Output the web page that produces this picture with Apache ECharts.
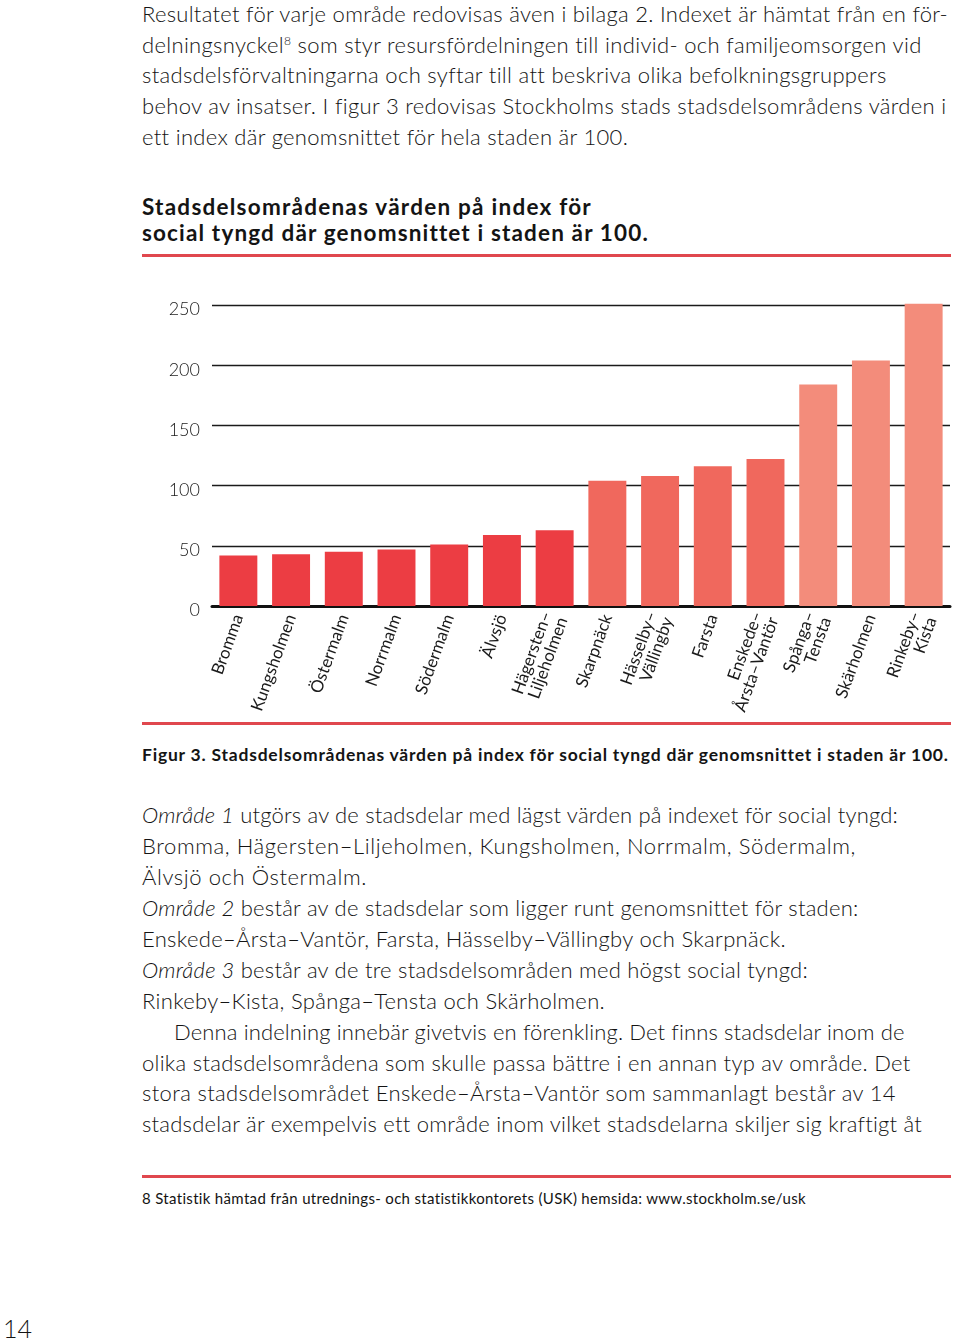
<!DOCTYPE html>
<html lang="sv">
<head>
<meta charset="utf-8">
<title>Stadsdelsområdenas värden på index för social tyngd</title>
<script src="https://cdn.jsdelivr.net/npm/echarts@6/dist/echarts.min.js"></script>
<style>
  html, body { margin: 0; padding: 0; background: #ffffff; }
  body { width: 960px; height: 1340px; position: relative; overflow: hidden;
         font-family: Lato, "Open Sans", sans-serif; color: #141414; }
  .ln { position: absolute; left: 142px; white-space: nowrap; font-weight: 300;
        font-size: 22px; line-height: 30px; height: 30px; }
  .bold { font-weight: 700; }
  .title { font-size: 22.5px; line-height: 26px; height: 26px; }
  .cap { font-size: 17.5px; line-height: 22px; height: 22px; }
  .fn { font-size: 15px; line-height: 20px; height: 20px; font-weight: 400; }
  .ln sup { font-size: 0.55em; vertical-align: 0; position: relative; top: -0.7em; }
  .rule { position: absolute; left: 142px; width: 809px; height: 3px; background: #e0474e; }
  #chart { position: absolute; left: 0; top: 280px; width: 960px; height: 450px; }
  #pg { position: absolute; left: 3px; top: 1314px; font-size: 25px; font-weight: 300; line-height: 28px; }
</style>
</head>
<body>
<!-- paragraph 1 -->
<div class="ln" data-r="948" style="top:-1px">Resultatet för varje område redovisas även i bilaga 2. Indexet är hämtat från en för-</div>
<div class="ln" data-r="922" style="top:30px">delningsnyckel<sup>8</sup> som styr resursfördelningen till individ- och familjeomsorgen vid</div>
<div class="ln" data-r="886" style="top:60px">stadsdelsförvaltningarna och syftar till att beskriva olika befolkningsgruppers</div>
<div class="ln" data-r="946" style="top:91px">behov av insatser. I figur 3 redovisas Stockholms stads stadsdelsområdens värden i</div>
<div class="ln" data-r="627" style="top:122px">ett index där genomsnittet för hela staden är 100.</div>

<!-- chart title -->
<div class="ln bold title" data-r="592" style="top:194px">Stadsdelsområdenas värden på index för</div>
<div class="ln bold title" data-r="648" style="top:220px">social tyngd där genomsnittet i staden är 100.</div>
<div class="rule" style="top:254px"></div>

<div id="chart"></div>

<div class="rule" style="top:722px"></div>
<div class="ln bold cap" data-r="948" style="top:744px">Figur 3. Stadsdelsområdenas värden på index för social tyngd där genomsnittet i staden är 100.</div>

<!-- paragraph 2 -->
<div class="ln" data-r="898" style="top:800px"><i>Område 1</i> utgörs av de stadsdelar med lägst värden på indexet för social tyngd:</div>
<div class="ln" data-r="856" style="top:831px">Bromma, Hägersten–Liljeholmen, Kungsholmen, Norrmalm, Södermalm,</div>
<div class="ln" data-r="367" style="top:862px">Älvsjö och Östermalm.</div>
<div class="ln" data-r="858" style="top:893px"><i>Område 2</i> består av de stadsdelar som ligger runt genomsnittet för staden:</div>
<div class="ln" data-r="786" style="top:924px">Enskede–Årsta–Vantör, Farsta, Hässelby–Vällingby och Skarpnäck.</div>
<div class="ln" data-r="808" style="top:955px"><i>Område 3</i> består av de tre stadsdelsområden med högst social tyngd:</div>
<div class="ln" data-r="605" style="top:986px">Rinkeby–Kista, Spånga–Tensta och Skärholmen.</div>
<div class="ln" data-r="904" style="top:1017px;left:174px">Denna indelning innebär givetvis en förenkling. Det finns stadsdelar inom de</div>
<div class="ln" data-r="910" style="top:1048px">olika stadsdelsområdena som skulle passa bättre i en annan typ av område. Det</div>
<div class="ln" data-r="896" style="top:1078px">stora stadsdelsområdet Enskede–Årsta–Vantör som sammanlagt består av 14</div>
<div class="ln" data-r="921" style="top:1109px">stadsdelar är exempelvis ett område inom vilket stadsdelarna skiljer sig kraftigt åt</div>

<div class="rule" style="top:1175px"></div>
<div class="ln fn" data-r="807" style="top:1188px">8 Statistik hämtad från utrednings- och statistikkontorets (USK) hemsida: www.stockholm.se/usk</div>

<div id="pg">14</div>

<script>
// ---- data ----
const categories = [
  'Bromma', 'Kungsholmen', 'Östermalm', 'Norrmalm', 'Södermalm', 'Älvsjö',
  'Hägersten–\nLiljeholmen', 'Skarpnäck', 'Hässelby–\nVällingby', 'Farsta',
  'Enskede–\nÅrsta–Vantör', 'Spånga–\nTensta', 'Skärholmen', 'Rinkeby–\nKista'
];
const values = [42, 43, 45, 47, 51, 59, 63, 104, 108, 116, 122, 184, 204, 251];
const areaGroup = [1, 1, 1, 1, 1, 1, 1, 2, 2, 2, 2, 3, 3, 3];
const yTicks = [0, 50, 100, 150, 200, 250];

// ---- fit text lines to the reference widths ----
function fitLines() {
  document.querySelectorAll('.ln[data-r]').forEach(el => {
    el.style.letterSpacing = '0px';
    const r = el.getBoundingClientRect();
    const target = parseFloat(el.dataset.r) - r.left;
    const n = el.textContent.length;
    if (n > 1) el.style.letterSpacing = ((target - r.width) / n).toFixed(3) + 'px';
  });
}

// ---- chart ----
const groupColors = { 1: '#ec3d43', 2: '#f0685d', 3: '#f38c7b' };
const chart = echarts.init(document.getElementById('chart'), null, { renderer: 'canvas' });
chart.setOption({
  animation: false,
  grid: { left: 212, right: 10, top: 25, bottom: 124 },
  xAxis: {
    type: 'category',
    data: categories,
    axisLine: { show: true, lineStyle: { color: '#111', width: 3 } },
    axisTick: { show: false },
    axisLabel: {
      interval: 0, rotate: 70, margin: 9,
      fontFamily: 'Lato', fontWeight: 400, fontSize: 17, color: '#1a1a1a',
      lineHeight: 17
    }
  },
  yAxis: {
    type: 'value',
    min: yTicks[0], max: yTicks[yTicks.length - 1], interval: 50,
    axisLine: { show: false },
    axisTick: { show: false },
    splitLine: { show: true, lineStyle: { color: '#1b1b1b', width: 1.4 } },
    axisLabel: {
      margin: 12, fontFamily: 'Lato', fontWeight: 300, fontSize: 18, color: '#1a1a1a',
      verticalAlign: 'top', lineHeight: 9
    }
  },
  series: [{
    type: 'bar',
    clip: false,
    barWidth: '72%',
    data: values.map((v, i) => ({ value: v, itemStyle: { color: groupColors[areaGroup[i]] } }))
  }]
});

if (document.fonts && document.fonts.ready) {
  document.fonts.ready.then(() => { fitLines(); chart.resize(); });
}
fitLines();
</script>
</body>
</html>
